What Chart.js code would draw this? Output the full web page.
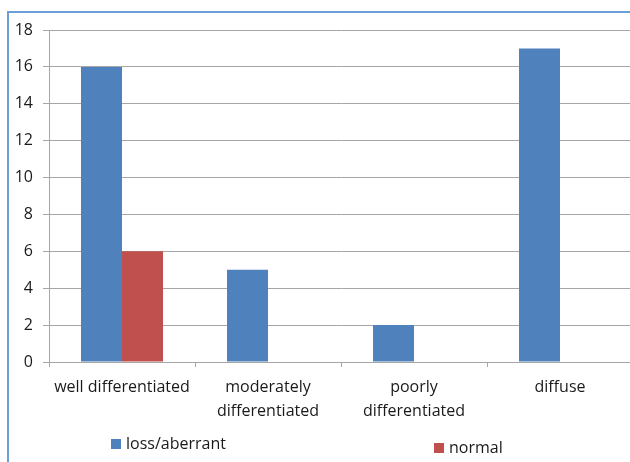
<!DOCTYPE html>
<html>
<head>
<meta charset="utf-8">
<script src="https://cdn.jsdelivr.net/npm/chart.js@4/dist/chart.umd.min.js"></script>
<style>
  html, body { margin: 0; padding: 0; background: #fff; overflow: hidden; }
  #wrap { position: relative; width: 640px; height: 462px; }
</style>
</head>
<body>
<div id="wrap"><canvas id="c" width="640" height="462"></canvas></div>
<script>
// Grade categories (multi-line labels) and counts per staining pattern
const categories = [
  ["well differentiated"],
  ["moderately", "differentiated"],
  ["poorly", "differentiated"],
  ["diffuse"]
];
const lossAberrant = [16, 5, 2, 17];
const normal = [6, 0, 0, 0];
const seriesNames = ["loss/aberrant", "normal"];
const yTicks = [0, 2, 4, 6, 8, 10, 12, 14, 16, 18];

const BLUE = "#4f81bd";
const RED = "#c0504d";
const GRID = "#a6a6a6";
const FONT = "'Open Sans', sans-serif";

// Blue frame along the top and left edge, plus the split legend below the plot
const framePlugin = {
  id: "frameAndLegend",
  beforeDraw(chart) {
    const ctx = chart.ctx;
    ctx.save();
    ctx.fillStyle = "#fff";
    ctx.fillRect(0, 0, chart.width, chart.height);
    ctx.strokeStyle = "#6a9fd8";
    ctx.lineWidth = 2;
    ctx.beginPath();
    ctx.moveTo(8, chart.height);
    ctx.lineTo(8, 12);
    ctx.lineTo(chart.width, 12);
    ctx.stroke();
    ctx.restore();
  },
  afterDraw(chart) {
    const ctx = chart.ctx;
    const spots = [{ x: 111, y: 439 }, { x: 434, y: 443 }];
    ctx.save();
    ctx.font = "16px " + FONT;
    ctx.textBaseline = "middle";
    chart.data.datasets.forEach((ds, i) => {
      const p = spots[i];
      ctx.fillStyle = ds.backgroundColor;
      ctx.fillRect(p.x, p.y, 10, 10);
      ctx.fillStyle = "#1a1a1a";
      ctx.fillText(ds.label, p.x + 15, p.y + 5);
    });
    ctx.restore();
  }
};

new Chart(document.getElementById("c"), {
  type: "bar",
  data: {
    labels: categories,
    datasets: [
      { label: seriesNames[0], data: lossAberrant, backgroundColor: BLUE },
      { label: seriesNames[1], data: normal, backgroundColor: RED }
    ]
  },
  options: {
    responsive: false,
    animation: false,
    layout: { padding: { top: 30, right: 7, bottom: 0, left: 0 } },
    plugins: { legend: { display: false }, tooltip: { enabled: false } },
    datasets: { bar: { categoryPercentage: 0.5616, barPercentage: 1.0 } },
    scales: {
      x: {
        grid: { offset: true, drawOnChartArea: false, drawTicks: true, tickLength: 5, color: GRID },
        border: { color: GRID },
        ticks: { color: "#1a1a1a", font: { family: FONT, size: 16, lineHeight: 1.5 }, padding: 8, maxRotation: 0, autoSkip: false },
        afterFit(s) { s.height = 100; }
      },
      y: {
        min: 0, max: 18,
        afterBuildTicks(s) { s.ticks = yTicks.map(v => ({ value: v })); },
        grid: { color: GRID, tickLength: 6 },
        border: { color: GRID },
        ticks: { color: "#1a1a1a", font: { family: FONT, size: 16 }, padding: 10 },
        afterFit(s) { s.width = 49; }
      }
    }
  },
  plugins: [framePlugin]
});
</script>
</body>
</html>
